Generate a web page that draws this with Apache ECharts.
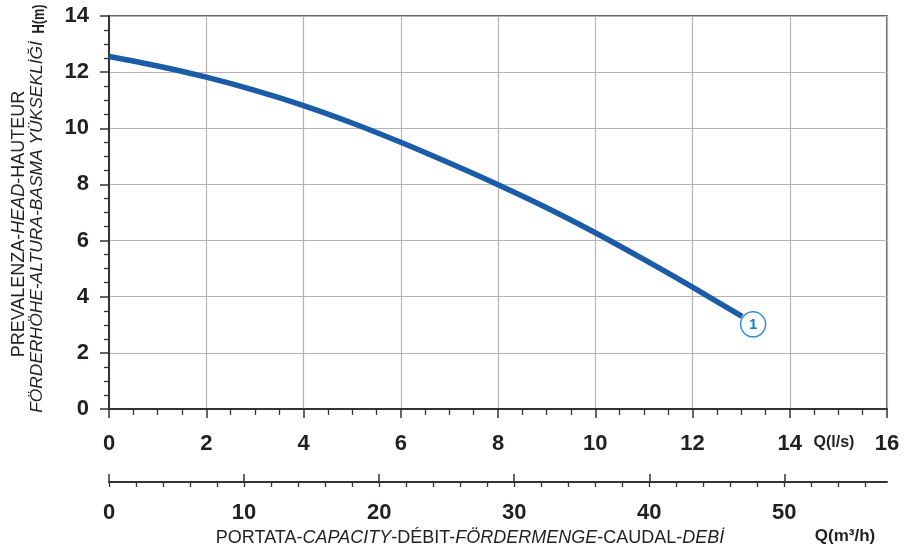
<!DOCTYPE html>
<html>
<head>
<meta charset="utf-8">
<script src="https://cdn.jsdelivr.net/npm/echarts@6/dist/echarts.min.js"></script>
<style>
html,body{margin:0;padding:0;background:#fff;}
#chart{width:919px;height:551px;}
</style>
</head>
<body>
<div id="chart"></div>
<script>
// ---- data ----
var flowLs = [0, 1, 2, 3, 4, 5, 6, 7, 8, 9, 10, 11, 12, 13.02];
var headM  = [12.56, 12.22, 11.82, 11.35, 10.81, 10.19, 9.5, 8.76, 7.99, 7.17, 6.28, 5.33, 4.34, 3.3];
var curveName = '1';
var xTicksLs = {min: 0, max: 16, interval: 2};
var yTicks = {min: 0, max: 14, interval: 2};
var m3hMax = 57.6;             // 16 l/s = 57.6 m3/h
var m3hLabels = [0, 10, 20, 30, 40, 50];
var yTitle1 = ['PREVALENZA-', 'HEAD', '-HAUTEUR'];
var yTitle2 = 'FÖRDERHÖHE-ALTURA-BASMA YÜKSEKLİĞİ';
var yUnit = 'H(m)';
var xUnitLs = 'Q(l/s)';
var xUnitM3h = 'Q(m³/h)';
var xTitle = ['PORTATA-', 'CAPACITY', '-DÉBIT-', 'FÖRDERMENGE', '-CAUDAL-', 'DEBİ'];

var m3hMinorTicks = [];
for (var v = 0; v <= 56; v += 2) m3hMinorTicks.push(v);

var FONT = '"Liberation Sans", Arial, Helvetica, sans-serif';
var INK = '#231f20';
var AX = '#333333';

var curve = flowLs.map(function (q, i) { return [q, headM[i]]; });
var last = curve[curve.length - 1];

var chart = echarts.init(document.getElementById('chart'), null, {renderer: 'canvas'});
chart.setOption({
  backgroundColor: '#ffffff',
  animation: false,
  grid: [
    {left: 109, top: 16, right: 32, bottom: 142, show: true, borderColor: AX, borderWidth: 1.5, backgroundColor: 'transparent'},
    {left: 109, top: 481, right: 32, height: 1, show: false}
  ],
  xAxis: [
    {
      gridIndex: 0, type: 'value', min: xTicksLs.min, max: xTicksLs.max, interval: xTicksLs.interval,
      axisLine: {show: true, onZero: false, lineStyle: {color: AX, width: 2}},
      axisTick: {show: true, length: 9, lineStyle: {color: AX, width: 1.5}},
      minorTick: {show: true, splitNumber: 4, length: 6, lineStyle: {color: AX, width: 1.3}},
      splitLine: {show: true, lineStyle: {color: '#b4b4b4', width: 1.2}},
      axisLabel: {margin: 24, fontFamily: FONT, fontWeight: 'bold', fontSize: 22, color: INK}
    },
    {
      gridIndex: 1, type: 'value', min: 0, max: m3hMax,
      axisLine: {show: true, onZero: false, lineStyle: {color: AX, width: 2}},
      axisTick: {show: true, length: 5, customValues: m3hMinorTicks, lineStyle: {color: AX, width: 1.3}},
      splitLine: {show: false},
      axisLabel: {show: true, customValues: m3hLabels, margin: 20, fontFamily: FONT, fontWeight: 'bold', fontSize: 22, color: INK}
    },
    {
      gridIndex: 1, type: 'value', min: 0, max: m3hMax,
      axisLine: {show: false},
      axisTick: {show: true, length: 8, customValues: m3hLabels, lineStyle: {color: AX, width: 1.5}},
      splitLine: {show: false},
      axisLabel: {show: false}
    }
  ],
  yAxis: [
    {
      gridIndex: 0, type: 'value', min: yTicks.min, max: yTicks.max, interval: yTicks.interval,
      axisLine: {show: true, onZero: false, lineStyle: {color: AX, width: 2}},
      axisTick: {show: true, length: 9, lineStyle: {color: AX, width: 1.5}},
      minorTick: {show: true, splitNumber: 4, length: 5, lineStyle: {color: AX, width: 1.3}},
      splitLine: {show: true, lineStyle: {color: '#b4b4b4', width: 1.2}},
      axisLabel: {margin: 20, fontFamily: FONT, fontWeight: 'bold', fontSize: 22, color: INK}
    },
    {gridIndex: 1, type: 'value', show: false, min: 0, max: 1}
  ],
  series: [{
    type: 'line',
    xAxisIndex: 0, yAxisIndex: 0,
    data: curve,
    smooth: 0.3,
    showSymbol: false,
    lineStyle: {color: '#1b5ca8', width: 5.5, cap: 'butt'},
    markPoint: {
      silent: true,
      data: [{coord: last}],
      symbol: 'circle',
      symbolSize: 25,
      symbolOffset: [11, 8],
      itemStyle: {color: '#ffffff', borderColor: '#3390d6', borderWidth: 1.5},
      label: {show: true, formatter: curveName, color: '#1f78c8', fontFamily: FONT, fontWeight: 'bold', fontSize: 15, position: 'inside'}
    }
  }],
  graphic: [
    {
      type: 'text', x: 19, y: 224, rotation: Math.PI / 2,
      style: {
        text: '{n|' + yTitle1[0] + '}{i|' + yTitle1[1] + '}{n|' + yTitle1[2] + '}',
        align: 'center', verticalAlign: 'middle',
        rich: {
          n: {fontFamily: FONT, fontSize: 18, fill: INK},
          i: {fontFamily: FONT, fontSize: 18, fontStyle: 'italic', fill: INK}
        }
      }
    },
    {
      type: 'text', x: 37, y: 227, rotation: Math.PI / 2,
      style: {
        text: yTitle2, align: 'center', verticalAlign: 'middle',
        font: 'italic 17.4px ' + FONT, fill: INK
      }
    },
    {
      type: 'text', x: 40, y: 19, rotation: Math.PI / 2, scaleX: 0.8,
      style: {
        text: yUnit, align: 'center', verticalAlign: 'middle',
        font: 'bold 16px ' + FONT, fill: INK
      }
    },
    {
      type: 'text', x: 834, y: 443,
      style: {
        text: xUnitLs, align: 'center', verticalAlign: 'middle',
        font: 'bold 16px ' + FONT, fill: INK
      }
    },
    {
      type: 'text', x: 845, y: 536,
      style: {
        text: xUnitM3h, align: 'center', verticalAlign: 'middle',
        font: 'bold 17px ' + FONT, fill: INK
      }
    },
    {
      type: 'text', x: 470, y: 538,
      style: {
        text: '{n|' + xTitle[0] + '}{i|' + xTitle[1] + '}{n|' + xTitle[2] + '}{i|' + xTitle[3] + '}{n|' + xTitle[4] + '}{i|' + xTitle[5] + '}',
        align: 'center', verticalAlign: 'middle',
        rich: {
          n: {fontFamily: FONT, fontSize: 18, fill: INK},
          i: {fontFamily: FONT, fontSize: 18, fontStyle: 'italic', fill: INK}
        }
      }
    }
  ]
});
</script>
</body>
</html>
